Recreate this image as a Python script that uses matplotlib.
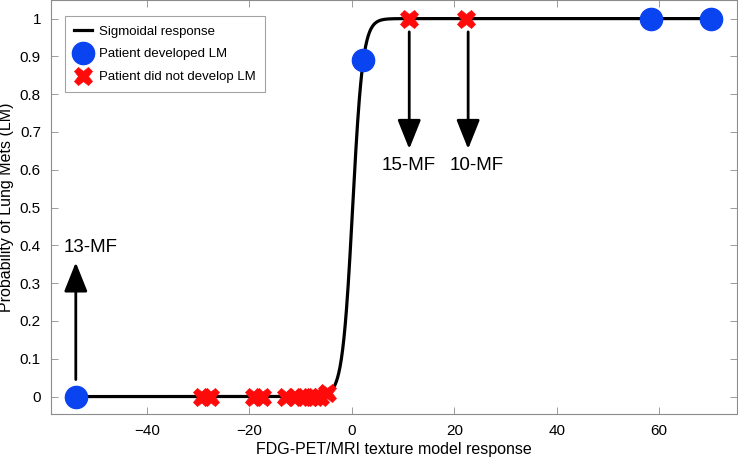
import matplotlib
matplotlib.use("Agg")
import matplotlib.pyplot as plt
import numpy as np

plt.rcParams["font.family"] = ["Liberation Sans", "DejaVu Sans"]

BLUE = "#0a44f0"
RED = "#ff0a0a"
SPINE = "#8c8c8c"

# sigmoid fit parameters
sig_x0 = 0.15
sig_k = 1.0
curve_x = np.linspace(-54, 71, 1500)
curve_y = 1.0 / (1.0 + np.exp(-sig_k * (curve_x - sig_x0)))

# patients who developed LM
dev_x = [-53.9, 2.1, 58.4, 70.1]
dev_y = [0.0, 0.89, 1.0, 1.0]

# patients who did not develop LM
nodev_x = [-29.3, -27.7, -19.2, -17.6, -12.8, -11.1, -9.5, -8.2, -7.2, -6.3, -4.9, 11.1, 22.3]
nodev_y = [0, 0, 0, 0, 0, 0, 0, 0, 0, 0, 0.01, 1.0, 1.0]

# annotations: label, arrow tail, arrow tip, label position
notes = [
    ("13-MF", (-53.9, 0.045), (-53.9, 0.355), (-51.0, 0.395)),
    ("15-MF", (11.2, 0.965), (11.2, 0.655), (11.0, 0.612)),
    ("10-MF", (22.7, 0.965), (22.7, 0.655), (24.3, 0.612)),
]

fig = plt.figure(figsize=(7.38, 4.62), dpi=100)
ax = fig.add_axes([0.0687, 0.104, 0.930, 0.895])

ax.plot(curve_x, curve_y, color="black", lw=2.3, label="Sigmoidal response", zorder=2)
ax.plot(dev_x, dev_y, "o", color=BLUE, ms=16, mec=BLUE, ls="none",
        label="Patient developed LM", zorder=3)
ax.plot(nodev_x, nodev_y, "X", color=RED, ms=13, mec=RED, mew=0.5, ls="none",
        label="Patient did not develop LM", zorder=3)

for text, tail, tip, pos in notes:
    ax.annotate("", xy=tip, xytext=tail,
                arrowprops=dict(arrowstyle="-|>,head_length=1.8,head_width=0.72",
                                color="black", lw=2, shrinkA=0, shrinkB=0,
                                mutation_scale=10))
    ax.text(pos[0], pos[1], text, fontsize=13.5, ha="center", va="center")

ax.set_xlim(-58.8, 75.2)
ax.set_ylim(-0.046, 1.048)
ax.set_xticks([-40, -20, 0, 20, 40, 60])
ax.set_yticks(np.round(np.arange(0, 1.01, 0.1), 1))
ax.set_yticklabels(["0", "0.1", "0.2", "0.3", "0.4", "0.5", "0.6", "0.7", "0.8", "0.9", "1"])
ax.tick_params(direction="in", length=5, width=0.6, color=SPINE, labelsize=11,
               top=True, right=True, pad=7)
for s in ax.spines.values():
    s.set_color(SPINE)
    s.set_linewidth(0.8)

ax.set_xlabel("FDG-PET/MRI texture model response", fontsize=11.5, labelpad=3)
ax.set_ylabel("Probability of Lung Mets (LM)", fontsize=11.5, labelpad=4)

leg = ax.legend(loc="upper left", bbox_to_anchor=(0.021, 0.962), fontsize=9.5,
                frameon=True, fancybox=False, handlelength=1.3, handletextpad=0.55,
                borderpad=0.7, labelspacing=0.8, borderaxespad=0)
leg.get_frame().set_edgecolor(SPINE)
leg.get_frame().set_linewidth(0.8)

fig.savefig("out.png", dpi=100)
